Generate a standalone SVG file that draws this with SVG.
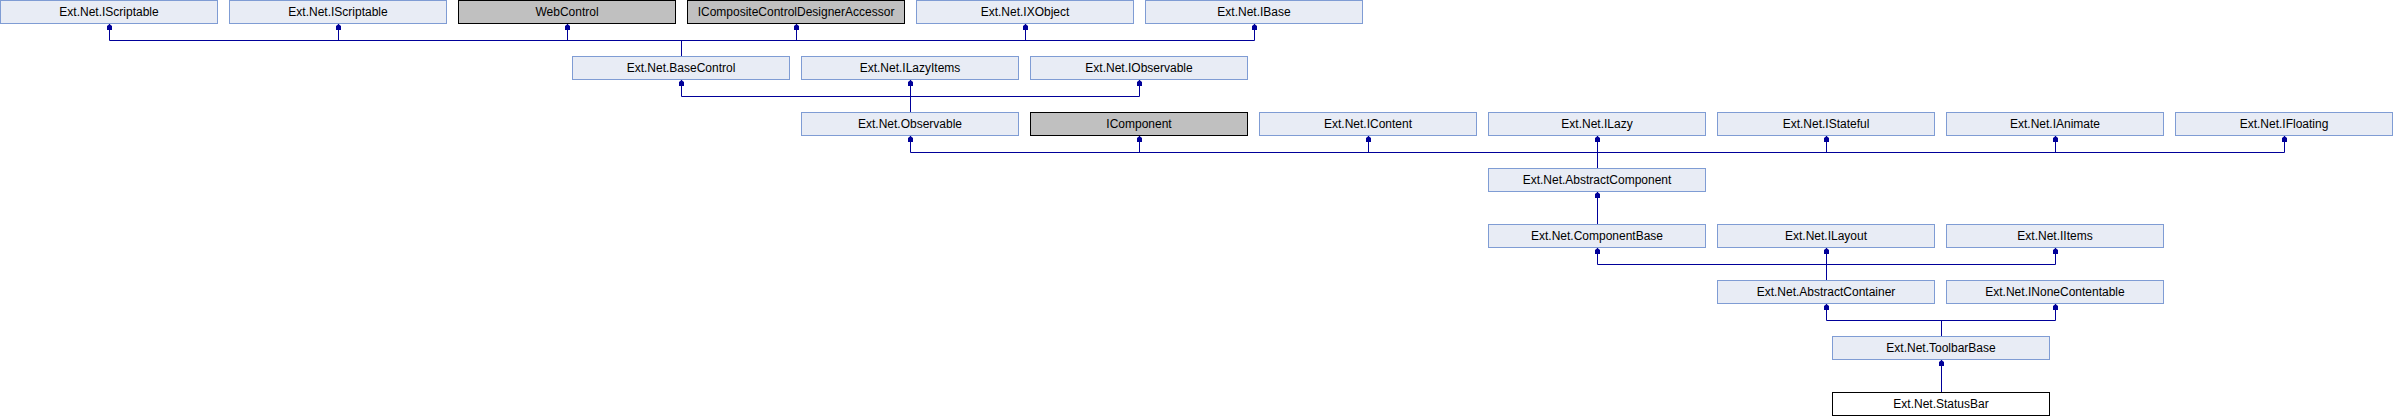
<svg xmlns="http://www.w3.org/2000/svg" width="2394" height="416" viewBox="0 0 2394 416">
<style>
.n rect{fill:#E8ECF5;stroke:#7F9CD4;stroke-width:1}
.g rect{fill:#C0C0C0;stroke:#000000;stroke-width:1}
.w rect{fill:#FFFFFF;stroke:#000000;stroke-width:1}
text{font-family:"Liberation Sans",Arial,sans-serif;font-size:12px;fill:#000000;text-anchor:middle}
.c path{fill:none;stroke:#000099;stroke-width:1}
.c path.a{marker-start:url(#arr)}
</style>
<defs>
<marker id="arr" markerUnits="userSpaceOnUse" markerWidth="10" markerHeight="10" refX="0" refY="0" orient="auto-start-reverse" overflow="visible">
<path d="M0,0 L-2,-2.5 L-6,-2.5 L-6,2.5 L-2,2.5 Z" fill="#000099" stroke="none"/>
</marker>
</defs>
<g class="c" id="connectors">
<path d="M109.5,40.5 H1254.5"/>
<path class="a" d="M109.5,24 V40.5"/>
<path class="a" d="M338.5,24 V40.5"/>
<path class="a" d="M567.5,24 V40.5"/>
<path class="a" d="M796.5,24 V40.5"/>
<path class="a" d="M1025.5,24 V40.5"/>
<path class="a" d="M1254.5,24 V40.5"/>
<path d="M681.5,40.5 V56"/>
<path d="M681.5,96.5 H1139.5"/>
<path class="a" d="M681.5,80 V96.5"/>
<path class="a" d="M910.5,80 V112"/>
<path class="a" d="M1139.5,80 V96.5"/>
<path d="M910.5,152.5 H2284.5"/>
<path class="a" d="M910.5,136 V152.5"/>
<path class="a" d="M1139.5,136 V152.5"/>
<path class="a" d="M1368.5,136 V152.5"/>
<path class="a" d="M1597.5,136 V168"/>
<path class="a" d="M1826.5,136 V152.5"/>
<path class="a" d="M2055.5,136 V152.5"/>
<path class="a" d="M2284.5,136 V152.5"/>
<path class="a" d="M1597.5,192 V224"/>
<path d="M1597.5,264.5 H2055.5"/>
<path class="a" d="M1597.5,248 V264.5"/>
<path class="a" d="M1826.5,248 V280"/>
<path class="a" d="M2055.5,248 V264.5"/>
<path d="M1826.5,320.5 H2055.5"/>
<path class="a" d="M1826.5,304 V320.5"/>
<path class="a" d="M2055.5,304 V320.5"/>
<path d="M1941.5,320.5 V336"/>
<path class="a" d="M1941.5,360 V392"/>
</g>
<g id="IScriptable1" class="n"><rect x="0.5" y="0.5" width="217" height="23"/><text x="109" y="16">Ext.Net.IScriptable</text></g>
<g id="IScriptable2" class="n"><rect x="229.5" y="0.5" width="217" height="23"/><text x="338" y="16">Ext.Net.IScriptable</text></g>
<g id="WebControl" class="g"><rect x="458.5" y="0.5" width="217" height="23"/><text x="567" y="16">WebControl</text></g>
<g id="ICompositeControlDesignerAccessor" class="g"><rect x="687.5" y="0.5" width="217" height="23"/><text x="796" y="16">ICompositeControlDesignerAccessor</text></g>
<g id="IXObject" class="n"><rect x="916.5" y="0.5" width="217" height="23"/><text x="1025" y="16">Ext.Net.IXObject</text></g>
<g id="IBase" class="n"><rect x="1145.5" y="0.5" width="217" height="23"/><text x="1254" y="16">Ext.Net.IBase</text></g>
<g id="BaseControl" class="n"><rect x="572.5" y="56.5" width="217" height="23"/><text x="681" y="72">Ext.Net.BaseControl</text></g>
<g id="ILazyItems" class="n"><rect x="801.5" y="56.5" width="217" height="23"/><text x="910" y="72">Ext.Net.ILazyItems</text></g>
<g id="IObservable" class="n"><rect x="1030.5" y="56.5" width="217" height="23"/><text x="1139" y="72">Ext.Net.IObservable</text></g>
<g id="Observable" class="n"><rect x="801.5" y="112.5" width="217" height="23"/><text x="910" y="128">Ext.Net.Observable</text></g>
<g id="IComponent" class="g"><rect x="1030.5" y="112.5" width="217" height="23"/><text x="1139" y="128">IComponent</text></g>
<g id="IContent" class="n"><rect x="1259.5" y="112.5" width="217" height="23"/><text x="1368" y="128">Ext.Net.IContent</text></g>
<g id="ILazy" class="n"><rect x="1488.5" y="112.5" width="217" height="23"/><text x="1597" y="128">Ext.Net.ILazy</text></g>
<g id="IStateful" class="n"><rect x="1717.5" y="112.5" width="217" height="23"/><text x="1826" y="128">Ext.Net.IStateful</text></g>
<g id="IAnimate" class="n"><rect x="1946.5" y="112.5" width="217" height="23"/><text x="2055" y="128">Ext.Net.IAnimate</text></g>
<g id="IFloating" class="n"><rect x="2175.5" y="112.5" width="217" height="23"/><text x="2284" y="128">Ext.Net.IFloating</text></g>
<g id="AbstractComponent" class="n"><rect x="1488.5" y="168.5" width="217" height="23"/><text x="1597" y="184">Ext.Net.AbstractComponent</text></g>
<g id="ComponentBase" class="n"><rect x="1488.5" y="224.5" width="217" height="23"/><text x="1597" y="240">Ext.Net.ComponentBase</text></g>
<g id="ILayout" class="n"><rect x="1717.5" y="224.5" width="217" height="23"/><text x="1826" y="240">Ext.Net.ILayout</text></g>
<g id="IItems" class="n"><rect x="1946.5" y="224.5" width="217" height="23"/><text x="2055" y="240">Ext.Net.IItems</text></g>
<g id="AbstractContainer" class="n"><rect x="1717.5" y="280.5" width="217" height="23"/><text x="1826" y="296">Ext.Net.AbstractContainer</text></g>
<g id="INoneContentable" class="n"><rect x="1946.5" y="280.5" width="217" height="23"/><text x="2055" y="296">Ext.Net.INoneContentable</text></g>
<g id="ToolbarBase" class="n"><rect x="1832.5" y="336.5" width="217" height="23"/><text x="1941" y="352">Ext.Net.ToolbarBase</text></g>
<g id="StatusBar" class="w"><rect x="1832.5" y="392.5" width="217" height="23"/><text x="1941" y="408">Ext.Net.StatusBar</text></g>
</svg>
